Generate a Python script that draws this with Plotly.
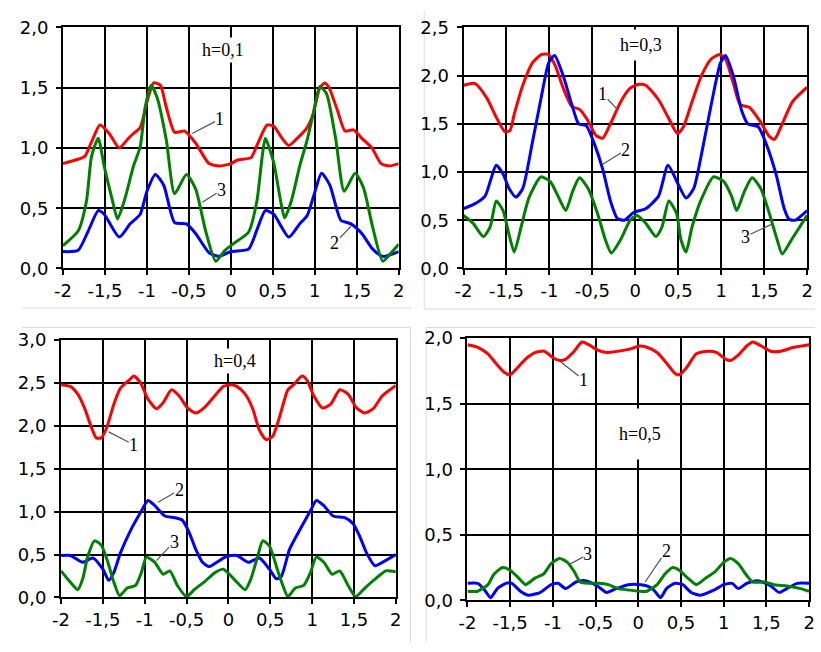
import plotly.graph_objects as go

# ---------------- data ----------------
# Panel h=0,1
h01_c1_x = [-2, -1.85, -1.74, -1.66, -1.56, -1.45, -1.33, -1.22, -1.16, -1.08, -1.0, -0.92, -0.84, -0.77, -0.67, -0.55, -0.42, -0.26, -0.14, 0.0,
            0.08, 0.24, 0.31, 0.43, 0.51, 0.61, 0.69, 0.79, 0.90, 0.98, 1.06, 1.12, 1.17, 1.27, 1.36, 1.46, 1.56, 1.68, 1.79, 1.89, 2.0]
h01_c1_y = [0.87, 0.90, 0.93, 1.05, 1.19, 1.12, 1.00, 1.08, 1.12, 1.17, 1.38, 1.54, 1.52, 1.34, 1.13, 1.14, 1.04, 0.87, 0.85, 0.87,
            0.90, 0.92, 1.02, 1.19, 1.18, 1.08, 1.02, 1.08, 1.16, 1.28, 1.50, 1.54, 1.50, 1.31, 1.14, 1.15, 1.08, 1.00, 0.87, 0.85, 0.87]
h01_c2_x = [-2, -1.82, -1.70, -1.58, -1.51, -1.33, -1.20, -1.08, -1.00, -0.90, -0.80, -0.67, -0.53, -0.42, -0.26, -0.14, 0.0,
            0.21, 0.31, 0.41, 0.51, 0.69, 0.82, 0.91, 0.99, 1.08, 1.18, 1.31, 1.43, 1.56, 1.69, 1.81, 2.0]
h01_c2_y = [0.14, 0.15, 0.31, 0.48, 0.45, 0.26, 0.37, 0.45, 0.64, 0.78, 0.69, 0.38, 0.37, 0.29, 0.13, 0.10, 0.14,
            0.16, 0.32, 0.48, 0.45, 0.26, 0.37, 0.44, 0.61, 0.79, 0.69, 0.40, 0.37, 0.29, 0.16, 0.10, 0.14]
h01_c3_x = [-2, -1.82, -1.72, -1.66, -1.58, -1.51, -1.41, -1.35, -1.27, -1.16, -1.08, -1.02, -0.95, -0.88, -0.77, -0.67, -0.53, -0.42, -0.30, -0.18,
            -0.07, 0.04, 0.21, 0.31, 0.37, 0.41, 0.51, 0.58, 0.64, 0.72, 0.82, 0.91, 0.98, 1.06, 1.14, 1.25, 1.35, 1.48, 1.58, 1.69, 1.81, 1.91, 2.0]
h01_c3_y = [0.19, 0.31, 0.56, 0.93, 1.08, 0.85, 0.56, 0.41, 0.56, 0.85, 1.01, 1.34, 1.52, 1.42, 1.07, 0.62, 0.78, 0.66, 0.31, 0.06,
            0.15, 0.21, 0.30, 0.56, 0.91, 1.08, 0.88, 0.61, 0.42, 0.56, 0.85, 1.07, 1.28, 1.51, 1.45, 1.07, 0.64, 0.79, 0.67, 0.34, 0.06, 0.13, 0.20]

# Panel h=0,3
h03_c1_x = [-2, -1.87, -1.73, -1.62, -1.52, -1.46, -1.41, -1.31, -1.20, -1.09, -1.01, -0.93, -0.84, -0.74, -0.65, -0.55, -0.46, -0.38, -0.29, -0.17, -0.06,
            0.04, 0.12, 0.27, 0.38, 0.49, 0.56, 0.66, 0.77, 0.88, 0.98, 1.05, 1.14, 1.22, 1.33, 1.45, 1.56, 1.62, 1.71, 1.83, 2.0]
h03_c1_y = [1.90, 1.92, 1.77, 1.57, 1.42, 1.43, 1.60, 1.90, 2.13, 2.22, 2.22, 2.10, 1.87, 1.68, 1.65, 1.53, 1.38, 1.35, 1.50, 1.73, 1.87,
            1.91, 1.90, 1.75, 1.57, 1.40, 1.47, 1.73, 2.00, 2.17, 2.22, 2.17, 1.92, 1.70, 1.67, 1.53, 1.37, 1.34, 1.50, 1.73, 1.88]
h03_c2_x = [-2, -1.87, -1.75, -1.68, -1.62, -1.54, -1.47, -1.39, -1.31, -1.20, -1.09, -1.01, -0.94, -0.84, -0.74, -0.66, -0.57, -0.48, -0.38, -0.29, -0.21, -0.13, -0.02,
            0.12, 0.27, 0.38, 0.50, 0.59, 0.68, 0.78, 0.89, 0.99, 1.05, 1.14, 1.24, 1.31, 1.43, 1.52, 1.64, 1.73, 1.79, 1.86, 2.0]
h03_c2_y = [0.62, 0.67, 0.75, 0.93, 1.07, 0.98, 0.83, 0.74, 0.83, 1.30, 1.80, 2.13, 2.21, 2.00, 1.70, 1.50, 1.48, 1.30, 1.03, 0.70, 0.52, 0.50, 0.58,
            0.62, 0.75, 1.07, 0.87, 0.73, 0.83, 1.23, 1.73, 2.13, 2.21, 2.00, 1.63, 1.50, 1.47, 1.30, 0.97, 0.63, 0.51, 0.50, 0.60]
h03_c3_x = [-2, -1.89, -1.77, -1.69, -1.62, -1.54, -1.47, -1.41, -1.33, -1.24, -1.10, -0.99, -0.90, -0.81, -0.73, -0.65, -0.55, -0.44, -0.35, -0.28, -0.17, -0.06,
            0.02, 0.12, 0.24, 0.31, 0.39, 0.48, 0.53, 0.59, 0.66, 0.76, 0.91, 1.03, 1.12, 1.18, 1.27, 1.36, 1.46, 1.55, 1.65, 1.71, 1.82, 2.0]
h03_c3_y = [0.55, 0.47, 0.33, 0.43, 0.70, 0.60, 0.35, 0.17, 0.43, 0.73, 0.95, 0.90, 0.75, 0.60, 0.80, 0.94, 0.83, 0.57, 0.30, 0.16, 0.30, 0.50,
            0.55, 0.47, 0.33, 0.43, 0.70, 0.57, 0.30, 0.17, 0.43, 0.70, 0.95, 0.90, 0.75, 0.60, 0.80, 0.94, 0.83, 0.60, 0.30, 0.15, 0.30, 0.55]

# Panel h=0,4
h04_c1_x = [-2, -1.89, -1.80, -1.72, -1.64, -1.58, -1.52, -1.45, -1.37, -1.29, -1.19, -1.13, -1.05, -0.96, -0.86, -0.78, -0.68, -0.59, -0.49, -0.39, -0.29, -0.18, -0.06,
            0.04, 0.10, 0.20, 0.29, 0.37, 0.45, 0.53, 0.61, 0.71, 0.78, 0.88, 0.94, 1.02, 1.12, 1.22, 1.33, 1.43, 1.53, 1.63, 1.73, 1.84, 2.0]
h04_c1_y = [2.48, 2.46, 2.37, 2.21, 1.99, 1.86, 1.86, 1.99, 2.25, 2.44, 2.53, 2.58, 2.50, 2.31, 2.20, 2.27, 2.42, 2.35, 2.21, 2.15, 2.21, 2.33, 2.46,
            2.48, 2.46, 2.37, 2.20, 1.95, 1.84, 1.88, 2.10, 2.42, 2.48, 2.58, 2.53, 2.35, 2.21, 2.25, 2.42, 2.37, 2.21, 2.15, 2.20, 2.35, 2.47]
h04_c2_x = [-2, -1.89, -1.74, -1.62, -1.50, -1.43, -1.37, -1.29, -1.17, -1.05, -0.96, -0.88, -0.76, -0.64, -0.55, -0.47, -0.39, -0.31, -0.23, -0.14, -0.02,
            0.10, 0.24, 0.37, 0.49, 0.57, 0.63, 0.73, 0.86, 0.98, 1.05, 1.14, 1.25, 1.39, 1.49, 1.57, 1.65, 1.75, 1.84, 2.0]
h04_c2_y = [0.49, 0.49, 0.41, 0.46, 0.33, 0.20, 0.29, 0.52, 0.78, 0.99, 1.13, 1.07, 0.95, 0.93, 0.90, 0.76, 0.56, 0.41, 0.36, 0.41, 0.48,
            0.49, 0.41, 0.46, 0.33, 0.22, 0.24, 0.56, 0.80, 1.01, 1.13, 1.07, 0.95, 0.93, 0.86, 0.71, 0.52, 0.37, 0.41, 0.50]
h04_c3_x = [-2, -1.89, -1.80, -1.74, -1.68, -1.60, -1.52, -1.45, -1.37, -1.30, -1.21, -1.11, -1.04, -0.98, -0.88, -0.78, -0.70, -0.61, -0.50, -0.41, -0.29, -0.16, -0.06,
            0.08, 0.20, 0.27, 0.35, 0.41, 0.49, 0.59, 0.65, 0.71, 0.80, 0.90, 0.98, 1.05, 1.14, 1.24, 1.33, 1.43, 1.52, 1.63, 1.76, 1.88, 2.0]
h04_c3_y = [0.31, 0.18, 0.09, 0.22, 0.48, 0.66, 0.61, 0.44, 0.18, 0.02, 0.11, 0.14, 0.29, 0.47, 0.41, 0.27, 0.31, 0.14, 0.01, 0.09, 0.18, 0.29, 0.33,
            0.20, 0.09, 0.22, 0.48, 0.66, 0.60, 0.31, 0.14, 0.01, 0.11, 0.14, 0.29, 0.47, 0.41, 0.27, 0.31, 0.14, 0.01, 0.11, 0.22, 0.31, 0.30]

# Panel h=0,5
h05_c1_x = [-2, -1.88, -1.76, -1.67, -1.57, -1.50, -1.42, -1.32, -1.21, -1.10, -1.00, -0.92, -0.85, -0.75, -0.66, -0.58, -0.48, -0.37, -0.24, -0.08,
            0.01, 0.10, 0.22, 0.33, 0.43, 0.48, 0.56, 0.68, 0.81, 0.92, 1.02, 1.08, 1.17, 1.27, 1.34, 1.44, 1.55, 1.67, 1.82, 2.0]
h05_c1_y = [1.95, 1.93, 1.88, 1.81, 1.74, 1.72, 1.77, 1.84, 1.89, 1.90, 1.85, 1.83, 1.84, 1.90, 1.97, 1.95, 1.91, 1.89, 1.90, 1.92,
            1.94, 1.93, 1.89, 1.81, 1.73, 1.72, 1.77, 1.88, 1.90, 1.89, 1.84, 1.83, 1.87, 1.94, 1.97, 1.94, 1.90, 1.90, 1.93, 1.95]
h05_c2_x = [-2, -1.88, -1.80, -1.73, -1.65, -1.55, -1.48, -1.38, -1.29, -1.15, -1.02, -0.94, -0.85, -0.73, -0.62, -0.48, -0.37, -0.26, -0.12,
            0.03, 0.10, 0.18, 0.26, 0.33, 0.43, 0.52, 0.62, 0.73, 0.89, 1.00, 1.10, 1.17, 1.27, 1.40, 1.55, 1.65, 1.74, 1.86, 2.0]
h05_c2_y = [0.13, 0.13, 0.08, 0.02, 0.09, 0.13, 0.13, 0.07, 0.04, 0.06, 0.12, 0.13, 0.09, 0.14, 0.15, 0.11, 0.06, 0.09, 0.12,
            0.12, 0.11, 0.08, 0.02, 0.09, 0.13, 0.12, 0.06, 0.04, 0.08, 0.12, 0.13, 0.09, 0.13, 0.15, 0.11, 0.06, 0.09, 0.13, 0.13]
h05_c3_x = [-2, -1.88, -1.76, -1.69, -1.59, -1.50, -1.40, -1.32, -1.21, -1.11, -1.02, -0.92, -0.83, -0.75, -0.68, -0.58, -0.47, -0.35, -0.24, -0.12,
            0.01, 0.10, 0.22, 0.31, 0.40, 0.48, 0.58, 0.68, 0.79, 0.90, 1.00, 1.08, 1.17, 1.27, 1.34, 1.48, 1.59, 1.74, 1.90, 2.0]
h05_c3_y = [0.07, 0.07, 0.12, 0.20, 0.25, 0.23, 0.17, 0.12, 0.17, 0.20, 0.28, 0.32, 0.29, 0.22, 0.14, 0.13, 0.13, 0.12, 0.09, 0.08,
            0.07, 0.07, 0.12, 0.20, 0.25, 0.23, 0.17, 0.12, 0.17, 0.22, 0.29, 0.32, 0.28, 0.19, 0.14, 0.14, 0.12, 0.11, 0.09, 0.07]

x_tickvals = [-2, -1.5, -1, -0.5, 0, 0.5, 1, 1.5, 2]
x_ticktext = ["-2", "-1,5", "-1", "-0,5", "0", "0,5", "1", "1,5", "2"]
panel_titles = ["h=0,1", "h=0,3", "h=0,4", "h=0,5"]
panel_ymax = [2.0, 2.5, 3.0, 2.0]

# ---------------- styling ----------------
RED, BLUE, GREEN = "#ff0000", "#0000ff", "#008000"
W, H = 821, 652

# plot-area pixel boxes (left, right, top, bottom)
boxes = [(55, 397, 17, 266), (463, 813, 17, 266), (53, 394, 340, 606), (467, 815, 338, 609)]

panels = [
    [(h01_c1_x, h01_c1_y, RED), (h01_c2_x, h01_c2_y, BLUE), (h01_c3_x, h01_c3_y, GREEN)],
    [(h03_c1_x, h03_c1_y, RED), (h03_c2_x, h03_c2_y, BLUE), (h03_c3_x, h03_c3_y, GREEN)],
    [(h04_c1_x, h04_c1_y, RED), (h04_c2_x, h04_c2_y, BLUE), (h04_c3_x, h04_c3_y, GREEN)],
    [(h05_c1_x, h05_c1_y, RED), (h05_c2_x, h05_c2_y, BLUE), (h05_c3_x, h05_c3_y, GREEN)],
]

fig = go.Figure()
layout = dict(width=W, height=H, margin=dict(l=0, r=0, t=0, b=0),
              paper_bgcolor="white", plot_bgcolor="white", showlegend=False)

tickfont = dict(family="DejaVu Sans, Verdana, sans-serif", size=18, color="black")
for i, (box, curves, ymax) in enumerate(zip(boxes, panels, panel_ymax)):
    n = "" if i == 0 else str(i + 1)
    l, r, t, b = box
    xa = dict(domain=[l / W, r / W], anchor="y" + n, range=[-2, 2],
              tickvals=x_tickvals, ticktext=x_ticktext,
              showgrid=True, gridcolor="black", gridwidth=1.6,
              showline=True, linecolor="black", linewidth=1.6, mirror=True,
              ticks="outside", ticklen=5, tickwidth=1.6, tickcolor="black",
              tickfont=tickfont, zeroline=False, ticklabelstandoff=0,
              ticklabeloverflow="allow", fixedrange=True)
    yvals = [k * 0.5 for k in range(int(ymax / 0.5) + 1)]
    ya = dict(domain=[1 - b / H, 1 - t / H], anchor="x" + n, range=[0, ymax],
              tickvals=yvals, ticktext=[f"{v:.1f}".replace(".", ",") for v in yvals],
              showgrid=True, gridcolor="black", gridwidth=1.6,
              showline=True, linecolor="black", linewidth=2, mirror=True,
              ticks="outside", ticklen=5, tickwidth=1.6, tickcolor="black",
              tickfont=tickfont, zeroline=False, ticklabelstandoff=4,
              ticklabeloverflow="allow", fixedrange=True)
    layout["xaxis" + n] = xa
    layout["yaxis" + n] = ya
    for cx, cy, col in curves:
        fig.add_trace(go.Scatter(x=cx, y=cy, mode="lines", xaxis="x" + n, yaxis="y" + n,
                                 line=dict(color=col, width=3, shape="spline", smoothing=0.6),
                                 hoverinfo="skip"))

serif = dict(family="Liberation Serif, Times New Roman, serif", size=18, color="black")

# title annotations (x, y, borderpad)
title_pos = [(-0.09, 1.81, 2), (0.06, 2.32, 5), (0.08, 2.75, 2), (0.02, 1.27, 15)]
annotations = []
for i, ((tx, ty, bp), txt) in enumerate(zip(title_pos, panel_titles)):
    n = "" if i == 0 else str(i + 1)
    annotations.append(dict(x=tx, y=ty, xref="x" + n, yref="y" + n, text=txt, showarrow=False,
                            font=serif, bgcolor="white", borderpad=bp))

# curve labels: (panel, label, text x, text y, arrow x, arrow y)
labels = [
    (0, "1", -0.13, 1.24, -0.46, 1.12), (0, "3", -0.11, 0.65, -0.34, 0.55), (0, "2", 1.24, 0.21, 1.43, 0.35),
    (1, "1", -0.38, 1.81, -0.21, 1.65), (1, "2", -0.11, 1.23, -0.38, 1.08), (1, "3", 1.28, 0.33, 1.59, 0.46),
    (2, "1", -1.13, 1.78, -1.43, 1.93), (2, "2", -0.59, 1.25, -0.84, 1.11), (2, "3", -0.65, 0.65, -0.86, 0.43),
    (3, "1", -0.64, 1.68, -0.91, 1.82), (3, "3", -0.59, 0.35, -0.82, 0.27), (3, "2", 0.33, 0.38, 0.08, 0.14),
]
for p, txt, tx, ty, axp, ayp in labels:
    n = "" if p == 0 else str(p + 1)
    annotations.append(dict(x=axp, y=ayp, xref="x" + n, yref="y" + n,
                            ax=tx, ay=ty, axref="x" + n, ayref="y" + n,
                            text=txt, showarrow=True, arrowhead=0, arrowwidth=1.2,
                            arrowcolor="#555555", font=serif, standoff=0, borderpad=0))
layout["annotations"] = annotations

# faint frame lines of the original picture
gray = dict(color="#dcdcdc", width=1)
def seg(x0, y0, x1, y1):
    return dict(type="line", xref="paper", yref="paper", x0=x0 / W, x1=x1 / W,
                y0=1 - y0 / H, y1=1 - y1 / H, line=gray, layer="below")
layout["shapes"] = [
    seg(13, 307, 410, 307),
    seg(423, 0, 423, 308), seg(423, 308, 821, 308),
    seg(13, 327, 409, 327), seg(409, 327, 409, 652),
    seg(425, 327, 821, 327), seg(425, 327, 425, 652),
]

fig.update_layout(**layout)
fig.write_html("out.html", config={"displayModeBar": False},
               post_script="document.body.style.margin='0';document.body.style.padding='0';"
                           "document.body.style.overflow='hidden';")
